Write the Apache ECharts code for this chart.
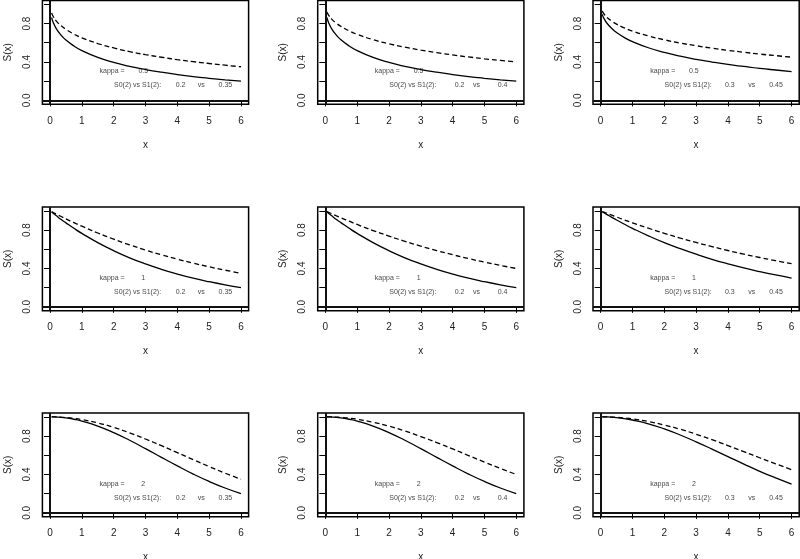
<!DOCTYPE html>
<html>
<head>
<meta charset="utf-8">
<script src="https://cdn.jsdelivr.net/npm/echarts@6/dist/echarts.min.js"></script>
<style>
  html, body { margin: 0; padding: 0; background: #fff; }
  #survChart { width: 800px; height: 559px; }
</style>
</head>
<body>
<div id="survChart"></div>
<script>
const xs = [0.05, 0.1, 0.2, 0.35, 0.5, 0.75, 1, 1.5, 2, 2.5, 3, 3.5, 4, 4.5, 5, 5.5, 6];

// kappa = 0.5, curves ending at S(6) = 0.2 / 0.3 / 0.35 / 0.4 / 0.45
const k05_20 = [0.863, 0.812, 0.745, 0.678, 0.628, 0.566, 0.518, 0.447, 0.395, 0.354, 0.321, 0.293, 0.269, 0.248, 0.230, 0.214, 0.200];
const k05_30 = [0.896, 0.856, 0.803, 0.748, 0.706, 0.653, 0.612, 0.548, 0.499, 0.460, 0.427, 0.399, 0.374, 0.353, 0.333, 0.316, 0.300];
const k05_35 = [0.909, 0.873, 0.826, 0.776, 0.739, 0.690, 0.651, 0.592, 0.546, 0.508, 0.476, 0.449, 0.424, 0.403, 0.384, 0.366, 0.350];
const k05_40 = [0.920, 0.888, 0.846, 0.802, 0.768, 0.723, 0.688, 0.632, 0.589, 0.554, 0.523, 0.497, 0.473, 0.452, 0.433, 0.416, 0.400];
const k05_45 = [0.930, 0.902, 0.864, 0.825, 0.794, 0.754, 0.722, 0.671, 0.631, 0.597, 0.569, 0.543, 0.521, 0.501, 0.482, 0.466, 0.450];

// kappa = 1
const k1_20 = [0.987, 0.974, 0.948, 0.910, 0.875, 0.818, 0.765, 0.669, 0.585, 0.511, 0.447, 0.391, 0.342, 0.299, 0.262, 0.229, 0.200];
const k1_30 = [0.990, 0.980, 0.961, 0.932, 0.905, 0.860, 0.818, 0.740, 0.669, 0.606, 0.548, 0.495, 0.448, 0.405, 0.367, 0.332, 0.300];
const k1_35 = [0.991, 0.983, 0.966, 0.941, 0.916, 0.877, 0.840, 0.769, 0.705, 0.646, 0.592, 0.542, 0.497, 0.455, 0.417, 0.382, 0.350];
const k1_40 = [0.992, 0.985, 0.970, 0.948, 0.927, 0.892, 0.858, 0.795, 0.737, 0.683, 0.632, 0.586, 0.543, 0.503, 0.466, 0.432, 0.400];
const k1_45 = [0.993, 0.987, 0.974, 0.955, 0.936, 0.905, 0.875, 0.819, 0.766, 0.717, 0.671, 0.628, 0.587, 0.549, 0.514, 0.481, 0.450];

// kappa = 2
const k2_20 = [1.000, 1.000, 0.998, 0.995, 0.989, 0.975, 0.956, 0.904, 0.836, 0.756, 0.669, 0.578, 0.489, 0.404, 0.327, 0.259, 0.200];
const k2_30 = [1.000, 1.000, 0.999, 0.996, 0.992, 0.981, 0.967, 0.928, 0.875, 0.811, 0.740, 0.664, 0.586, 0.508, 0.433, 0.364, 0.300];
const k2_35 = [1.000, 1.000, 0.999, 0.996, 0.993, 0.984, 0.971, 0.937, 0.890, 0.833, 0.769, 0.700, 0.627, 0.554, 0.482, 0.414, 0.350];
const k2_40 = [1.000, 1.000, 0.999, 0.997, 0.994, 0.986, 0.975, 0.944, 0.903, 0.853, 0.795, 0.732, 0.666, 0.597, 0.529, 0.463, 0.400];
const k2_45 = [1.000, 1.000, 0.999, 0.997, 0.995, 0.988, 0.978, 0.951, 0.915, 0.871, 0.819, 0.762, 0.701, 0.638, 0.574, 0.511, 0.450];

const kappas = ['0.5', '1', '2'];
const s0Labels = ['0.2', '0.2', '0.3'];   // per column, solid curve
const s1Labels = ['0.35', '0.4', '0.45']; // per column, dashed curve
const solidCurves = [
  [k05_20, k05_20, k05_30],
  [k1_20, k1_20, k1_30],
  [k2_20, k2_20, k2_30]
];
const dashedCurves = [
  [k05_35, k05_40, k05_45],
  [k1_35, k1_40, k1_45],
  [k2_35, k2_40, k2_45]
];
const xTicks = [0, 1, 2, 3, 4, 5, 6];
const yTicks = [0, 0.2, 0.4, 0.6, 0.8, 1];
const yLabels = [0, 0.4, 0.8];

const colLeft = [42.4, 317.7, 593];
const rowTop = [0.5, 207, 413];
const boxW = 206.2, boxH = 103.7;
// the middle column's numbers sit a little further right
const s0X = [4.1, 4.22, 4.06];
const s1X = [5.51, 5.57, 5.51];
const font = '"Liberation Sans", Arial, sans-serif';

function pairs(ys) {
  return xs.map((x, i) => [x, ys[i]]);
}

const grid = [], xAxis = [], yAxis = [], series = [];

for (let r = 0; r < 3; r++) {
  for (let c = 0; c < 3; c++) {
    const idx = r * 3 + c;
    grid.push({
      left: colLeft[c], top: rowTop[r], width: boxW, height: boxH,
      show: true, borderColor: '#000', borderWidth: 1.5,
      backgroundColor: 'transparent', outerBoundsMode: 'none'
    });
    xAxis.push({
      gridIndex: idx, type: 'value', min: -0.24, max: 6.24,
      axisLine: { show: false },
      axisTick: { show: true, length: 6, customValues: xTicks, lineStyle: { color: '#000', width: 1 } },
      axisLabel: { customValues: xTicks, margin: 12, fontSize: 10, color: '#222', fontFamily: font },
      splitLine: { show: false },
      name: 'x', nameLocation: 'middle', nameGap: 36,
      nameTextStyle: { fontSize: 10, color: '#222', fontFamily: font }
    });
    yAxis.push({
      gridIndex: idx, type: 'value', min: -0.04, max: 1.04,
      axisLine: { show: false },
      axisTick: { show: true, length: 6, customValues: yTicks, lineStyle: { color: '#000', width: 1 } },
      axisLabel: {
        customValues: yLabels, rotate: 90, margin: 10, fontSize: 10, color: '#222', fontFamily: font,
        formatter: v => v.toFixed(1)
      },
      splitLine: { show: false },
      name: 'S(x)', nameLocation: 'middle', nameRotate: 90, nameGap: 29,
      nameTextStyle: { fontSize: 10, color: '#222', fontFamily: font }
    });

    series.push({
      type: 'line', xAxisIndex: idx, yAxisIndex: idx,
      data: pairs(solidCurves[r][c]),
      showSymbol: false, smooth: true,
      lineStyle: { color: '#000', width: 1.3 },
      silent: true,
      markLine: {
        silent: true, symbol: ['none', 'none'], label: { show: false },
        lineStyle: { color: '#111', width: 2, type: 'solid' },
        data: [{ xAxis: 0 }, { yAxis: 0 }]
      }
    });
    series.push({
      type: 'line', xAxisIndex: idx, yAxisIndex: idx,
      data: pairs(dashedCurves[r][c]),
      showSymbol: false, smooth: true,
      lineStyle: { color: '#000', width: 1.3, type: [5, 3] },
      silent: true
    });
    // text annotations, placed in data coordinates
    series.push({
      type: 'scatter', xAxisIndex: idx, yAxisIndex: idx,
      symbolSize: 0, silent: true,
      label: {
        show: true, position: 'inside', formatter: '{b}',
        fontSize: 7, color: '#111', fontFamily: font
      },
      data: [
        { name: 'kappa =', value: [1.95, 0.3] },
        { name: kappas[r], value: [2.93, 0.3] },
        { name: 'S0(2) vs S1(2):', value: [2.75, 0.155] },
        { name: s0Labels[c], value: [s0X[c], 0.155] },
        { name: 'vs', value: [4.75, 0.155] },
        { name: s1Labels[c], value: [s1X[c], 0.155] }
      ]
    });
  }
}

const survChart = echarts.init(document.getElementById('survChart'));
survChart.setOption({
  animation: false,
  backgroundColor: '#fff',
  grid: grid,
  xAxis: xAxis,
  yAxis: yAxis,
  series: series
});
</script>
</body>
</html>
